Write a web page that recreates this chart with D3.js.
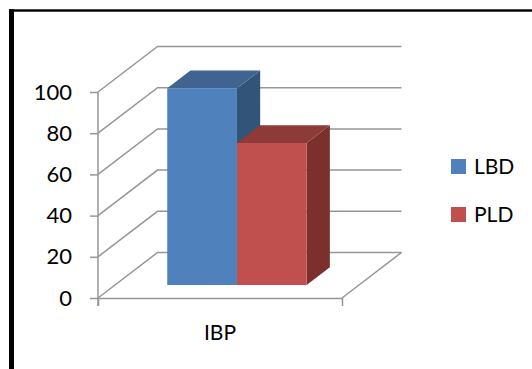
<!DOCTYPE html>
<html>
<head>
<meta charset="utf-8">
<script src="https://cdn.jsdelivr.net/npm/d3@7/dist/d3.min.js"></script>
<style>
  html, body { margin: 0; padding: 0; background: #fff; }
  svg { display: block; }
  text { font-family: Lato, sans-serif; fill: #000; }
</style>
</head>
<body>
<svg id="chart" width="532" height="369"></svg>
<script>
// Chart values
const categories = ["IBP"];
const seriesNames = ["LBD", "PLD"];
const lbdValues = [95.5];
const pldValues = [69];
const yTicks = [0, 20, 40, 60, 80, 100];

// Colours: front, top and side shades of each series
const frontColors = ["#4F81BD", "#C0504D"];
const topColors = ["#3E648F", "#8E3A38"];
const sideColors = ["#335479", "#7C302E"];
const gridColor = "#969696";

const svg = d3.select("#chart");

// Plot box: front plane of the 3D floor and wall
const x0 = 98, x1 = 342, yBase = 298, yTop = 92;
const depthX = 59.5, depthY = 45.5;

const y = d3.scaleLinear().domain([0, 100]).range([yBase, yTop]);
const xCat = d3.scaleBand().domain(categories).range([x0, x1]);
const xSeries = d3.scaleBand().domain(seriesNames)
  .range([x0, x1]).paddingInner(0).paddingOuter(0.75);

// Oblique projection: depth 0 is the front plane, depth 1 the back wall
const px = (x, z) => x + depthX * z;
const py = (v, z) => y(v) - depthY * z;
const poly = pts => pts.map(p => p.join(",")).join(" ");

// Frame around the figure
svg.append("rect").attr("x", 9).attr("y", 9.3).attr("width", 523).attr("height", 2.4).attr("fill", "#000");
svg.append("rect").attr("x", 9).attr("y", 9.3).attr("width", 5).attr("height", 360).attr("fill", "#000");

// Wall gridlines: diagonal along the side wall, then flat across the back
const grid = svg.append("g").attr("fill", "none")
  .attr("stroke", gridColor).attr("stroke-width", 1.5);
grid.selectAll("polyline").data(yTicks).join("polyline")
  .attr("points", d => poly([[px(x0, 0), py(d, 0)], [px(x0, 1), py(d, 1)], [px(x1, 1), py(d, 1)]]));
// Right edge of the floor
grid.append("line")
  .attr("x1", px(x1, 0)).attr("y1", py(0, 0))
  .attr("x2", px(x1, 1)).attr("y2", py(0, 1));

// Axes
const yAxis = svg.append("g").attr("transform", `translate(${x0},0)`)
  .call(d3.axisLeft(y).tickValues(yTicks).tickSizeInner(8).tickSizeOuter(0).tickPadding(18));
const xAxis = svg.append("g").attr("transform", `translate(0,${yBase})`)
  .call(d3.axisBottom(xCat).tickSizeInner(0).tickSizeOuter(8).tickPadding(27));
[yAxis, xAxis].forEach(a => {
  a.selectAll("path,line").attr("stroke", gridColor).attr("stroke-width", 1.5);
  a.selectAll("text").attr("fill", "#000");
  a.attr("font-family", null).attr("font-size", null);
});
yAxis.selectAll("text").style("font-size", "22px");
xAxis.selectAll("text").style("font-size", "21px");
yAxis.select(".domain").attr("d", `M0,${yTop}V${yBase + 8}`);

// 3D bars: each box sits a little in front of the back wall
const zFront = 0.285, zBack = 0.675;
const bars = seriesNames.map((name, i) => ({
  name, i, value: [lbdValues, pldValues][i][0]
}));
const barGroups = svg.append("g").selectAll("g").data(bars).join("g");

barGroups.append("polygon").attr("fill", d => sideColors[d.i])
  .attr("points", d => {
    const r = xSeries(d.name) + xSeries.bandwidth();
    return poly([[px(r, zFront), py(0, zFront)], [px(r, zBack), py(0, zBack)],
                 [px(r, zBack), py(d.value, zBack)], [px(r, zFront), py(d.value, zFront)]]);
  });
barGroups.append("polygon").attr("fill", d => topColors[d.i])
  .attr("points", d => {
    const l = xSeries(d.name), r = l + xSeries.bandwidth();
    return poly([[px(l, zFront), py(d.value, zFront)], [px(l, zBack), py(d.value, zBack)],
                 [px(r, zBack), py(d.value, zBack)], [px(r, zFront), py(d.value, zFront)]]);
  });
barGroups.append("polygon").attr("fill", d => frontColors[d.i])
  .attr("points", d => {
    const l = xSeries(d.name), r = l + xSeries.bandwidth();
    return poly([[px(l, zFront), py(0, zFront)], [px(l, zFront), py(d.value, zFront)],
                 [px(r, zFront), py(d.value, zFront)], [px(r, zFront), py(0, zFront)]]);
  });

// Legend
const legendY = d3.scalePoint().domain(seriesNames).range([159, 207]);
const legend = svg.append("g").selectAll("g").data(seriesNames).join("g")
  .attr("transform", d => `translate(451,${legendY(d)})`);
legend.append("rect").attr("width", 15).attr("height", 15)
  .attr("fill", (d, i) => frontColors[i]);
legend.append("text").attr("x", 23).attr("y", 7.5).attr("dy", "0.36em")
  .style("font-size", "21px").text(d => d);
</script>
</body>
</html>
